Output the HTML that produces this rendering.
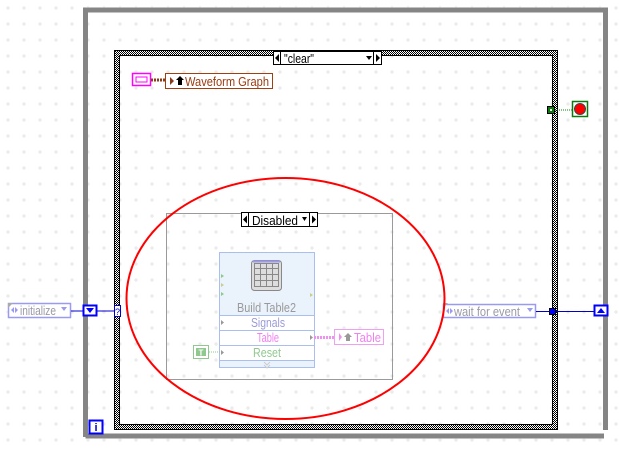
<!DOCTYPE html>
<html><head><meta charset="utf-8"><style>
html,body{margin:0;padding:0;background:#fff;}
svg{display:block;font-family:"Liberation Sans",sans-serif;}
</style></head><body>
<svg width="620" height="450" viewBox="0 0 620 450" xmlns="http://www.w3.org/2000/svg">
<defs>
<pattern id="hatch" width="2" height="2" patternUnits="userSpaceOnUse">
<rect width="2" height="2" fill="#fff"/><rect width="1" height="1" fill="#000"/><rect x="1" y="1" width="1" height="1" fill="#000"/>
</pattern>
<pattern id="dots" width="16" height="16" patternUnits="userSpaceOnUse">
<path d="M8 6v4M6 8h4" stroke="#e6e6e6" stroke-width="1"/>
</pattern>
</defs>
<rect width="620" height="450" fill="url(#dots)"/>
<!-- while loop -->
<path d="M85.5 437 V10 H605.5 V430" fill="none" stroke="#858585" stroke-width="5"/>
<path d="M85.5 436 H604" fill="none" stroke="#858585" stroke-width="5"/>
<rect x="88" y="12" width="515" height="421" fill="url(#dots)"/>
<!-- case structure -->
<rect x="115" y="51" width="442" height="378" fill="url(#hatch)"/>
<rect x="120" y="56" width="432" height="368" fill="#fff"/>
<rect x="120" y="56" width="432" height="368" fill="url(#dots)"/>
<rect x="114.5" y="50.5" width="443" height="379" fill="none" stroke="#000" stroke-width="1"/>
<rect x="119.5" y="55.5" width="433" height="369" fill="none" stroke="#000" stroke-width="1"/>
<!-- selector clear -->
<rect x="273.5" y="51.5" width="108" height="13" fill="#fff" stroke="#000"/>
<line x1="280.5" y1="51" x2="280.5" y2="65" stroke="#000"/>
<line x1="373.5" y1="51" x2="373.5" y2="65" stroke="#000"/>
<path d="M275 58 L279 54 V62Z M380 58 L376 54 V62Z M366 56 H372 L369 60Z" fill="#000"/>
<text x="284" y="63" font-size="13" textLength="30" lengthAdjust="spacingAndGlyphs">"clear"</text>
<!-- waveform graph -->
<rect x="132.5" y="73.5" width="18" height="12" fill="#fff" stroke="#f0f" stroke-width="1.5"/>
<rect x="136" y="77" width="11" height="5" fill="none" stroke="#f0f" stroke-width="1"/>
<line x1="151" y1="80" x2="166" y2="80" stroke="#8b3a1a" stroke-width="3" stroke-dasharray="2 1"/>
<rect x="165.5" y="73.5" width="107" height="15" fill="#fff" stroke="#a04010"/>
<path d="M170 77 L174 81 L170 85Z" fill="#8b3a1a"/>
<path d="M176 80 L180 76 L184 80 H182 V85 H178 V80Z" fill="#000"/>
<text x="185" y="86" font-size="13" fill="#9a3a10" textLength="84" lengthAdjust="spacingAndGlyphs">Waveform Graph</text>
<!-- stop -->
<rect x="547.5" y="106.5" width="7" height="7" fill="#0a7a0a" stroke="#000"/>
<rect x="550" y="109" width="2" height="2" fill="#fff"/>
<line x1="555" y1="110" x2="572" y2="110" stroke="#0a8a0a" stroke-dasharray="1 1"/>
<rect x="572.5" y="101.5" width="15" height="15" fill="#fff" stroke="#0a7a0a" stroke-width="1.5"/>
<circle cx="580" cy="109" r="5.5" fill="#f00" stroke="#444" stroke-width="1"/>
<!-- disabled structure -->
<rect x="166.5" y="213.5" width="226" height="166" fill="#fff" stroke="#9a9a9a"/>
<rect x="167" y="214" width="225" height="165" fill="url(#dots)"/>
<rect x="241.5" y="212.5" width="76" height="14" fill="#fff" stroke="#000"/>
<line x1="248.5" y1="212" x2="248.5" y2="227" stroke="#000"/>
<line x1="309.5" y1="212" x2="309.5" y2="227" stroke="#000"/>
<path d="M243 219.5 L247 215.5 V223.5Z M316 219.5 L312 215.5 V223.5Z M302 217 H307 L304.5 221Z" fill="#000"/>
<text x="252" y="225" font-size="13" textLength="46" lengthAdjust="spacingAndGlyphs">Disabled</text>
<!-- build table node -->
<rect x="219.5" y="252.5" width="95" height="115" fill="#eaf3fc" stroke="#a8bff0"/>
<rect x="220" y="316" width="94" height="44" fill="#fff"/>
<line x1="219" y1="315.5" x2="315" y2="315.5" stroke="#a8bff0"/>
<line x1="219" y1="330.5" x2="315" y2="330.5" stroke="#a8bff0"/>
<line x1="219" y1="345.5" x2="315" y2="345.5" stroke="#a8bff0"/>
<line x1="219" y1="360.5" x2="315" y2="360.5" stroke="#a8bff0"/>
<rect x="251.5" y="260.5" width="30" height="30" rx="3" fill="#ddd" stroke="#888"/>
<line x1="253" y1="261.5" x2="280" y2="261.5" stroke="#9a9af0" stroke-width="2"/>
<path d="M254.5 263.5h24v23h-24z M254.5 268.5h24 M254.5 274.5h24 M254.5 280.5h24 M260.5 263.5v23 M266.5 263.5v23 M272.5 263.5v23" fill="none" stroke="#888"/>
<path d="M221 274l3 2-3 2z" fill="#8c8"/><path d="M221 283l3 2-3 2z" fill="#cc8"/>
<path d="M221 292l3 2-3 2z" fill="#8c8"/><path d="M310 293l3 2-3 2z" fill="#cc8"/>
<text x="237" y="312" font-size="13" fill="#999" textLength="59" lengthAdjust="spacingAndGlyphs">Build Table2</text>
<path d="M221 320l3 2.5-3 2.5z M221 350l3 2.5-3 2.5z" fill="#999"/>
<path d="M310 335l3 2.5-3 2.5z" fill="#999"/>
<text x="251" y="327" font-size="13" fill="#9a9ad8" textLength="34" lengthAdjust="spacingAndGlyphs">Signals</text>
<text x="257" y="342" font-size="13" fill="#f080f0" textLength="22" lengthAdjust="spacingAndGlyphs">Table</text>
<text x="253" y="357" font-size="13" fill="#90c890" textLength="28" lengthAdjust="spacingAndGlyphs">Reset</text>
<path d="M264 362l3 3 3-3 M264 365l3 3 3-3" fill="none" stroke="#ccc"/>
<rect x="193.5" y="345.5" width="15" height="13" fill="#fff" stroke="#90c890"/>
<rect x="196" y="348" width="10" height="8" fill="#90c890"/>
<text x="201" y="355.5" font-size="8" fill="#fff" text-anchor="middle" font-weight="bold">T</text>
<line x1="209" y1="352" x2="220" y2="352" stroke="#90c890" stroke-dasharray="1 1"/>
<line x1="314" y1="337.5" x2="334" y2="337.5" stroke="#f090f0" stroke-width="3" stroke-dasharray="2 1"/>
<rect x="334.5" y="329.5" width="49" height="15" fill="#fff" stroke="#f0a0f0"/>
<path d="M339 333l3 4-3 4z" fill="#f090f0"/>
<path d="M344 337 L348 333 L352 337 H350 V341 H346 V337Z" fill="#999"/>
<text x="354" y="342" font-size="13" fill="#f080f0" textLength="27" lengthAdjust="spacingAndGlyphs">Table</text>
<!-- shift register left -->
<rect x="8.5" y="303.5" width="62" height="14" fill="#fff" stroke="#9a9af0" stroke-width="1.5"/>
<path d="M8 303h5l-5 5z" fill="#aaa"/>
<path d="M11 310l3-3v6z M18 310l-3-3v6z" fill="#9a9af0"/>
<text x="20" y="315" font-size="13" fill="#9a9aa8" textLength="36" lengthAdjust="spacingAndGlyphs">initialize</text>
<path d="M61 307h6l-3 4z" fill="#9a9af0"/>
<line x1="71" y1="311" x2="83" y2="311" stroke="#00c" />
<rect x="83.5" y="305.5" width="13" height="10" fill="#fff" stroke="#00f" stroke-width="2"/>
<path d="M86 308h8l-4 5z" fill="#00f"/>
<line x1="97" y1="311" x2="116" y2="311" stroke="#00c"/>
<rect x="114.5" y="305.5" width="6" height="11" fill="#fff" stroke="#00c"/>
<text x="117.5" y="315" font-size="9" fill="#00c" text-anchor="middle">?</text>
<!-- right -->
<rect x="443.5" y="304.5" width="92" height="13" fill="#fff" stroke="#9a9af0" stroke-width="1.5"/>
<path d="M443 303h5l-5 5z" fill="#aaa"/>
<path d="M446 311l3-3v6z M453 311l-3-3v6z" fill="#9a9af0"/>
<text x="454" y="316" font-size="13" fill="#9a9aa8" textLength="66" lengthAdjust="spacingAndGlyphs">wait for event</text>
<path d="M527 308h6l-3 4z" fill="#9a9af0"/>
<line x1="536" y1="311.5" x2="594" y2="311.5" stroke="#00c"/>
<rect x="549.5" y="308.5" width="6" height="6" fill="#00f" stroke="#000"/>
<rect x="594.5" y="305.5" width="13" height="10" fill="#fff" stroke="#00f" stroke-width="2"/>
<path d="M597 313h8l-4-5z" fill="#00f"/>
<!-- iteration -->
<rect x="89.5" y="420.5" width="13" height="13" fill="#fff" stroke="#00f" stroke-width="2"/>
<text x="96" y="431" font-size="11" fill="#00c" text-anchor="middle" font-weight="bold">i</text>
<!-- red ellipse -->
<ellipse cx="285.5" cy="298.5" rx="159" ry="120.5" fill="none" stroke="#f00" stroke-width="2"/>
</svg>
</body></html>
